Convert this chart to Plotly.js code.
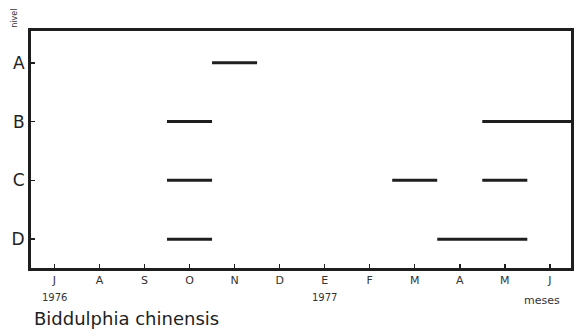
<!DOCTYPE html>
<html><head><meta charset="utf-8">
<script src="https://cdn.plot.ly/plotly-3.0.1.min.js"></script>
<style>html,body{margin:0;padding:0;background:#fff}</style>
</head><body><div id="chart" style="width:574px;height:331px"></div>
<script>
// Month axis: June 1976 .. June 1977
const months = ['J','A','S','O','N','D','E','F','M','A','M','J'];
const levelLabels = ['D','C','B','A'];
// months (index into months) in which the species was present at each level
const presenceA = [4];
const presenceB = [3, 10, 11];
const presenceC = [3, 8, 10];
const presenceD = [3, 9, 10];
const yearLabels = ['1976', '1977'];
const yearMonthIdx = [0, 6];
const speciesName = 'Biddulphia chinensis';

function segs(pres, lvl) {
  const x = [], y = [];
  const s = pres.slice().sort((a,b)=>a-b);
  let i = 0;
  while (i < s.length) {
    let j = i;
    while (j + 1 < s.length && s[j+1] === s[j] + 1) j++;
    x.push(s[i] - 0.5, s[j] + 0.5, null);
    y.push(lvl, lvl, null);
    i = j + 1;
  }
  return {x, y};
}
const ink = '#1e1e1e';
const traces = [[presenceD,1],[presenceC,2],[presenceB,3],[presenceA,4]].map(([p,l]) => {
  const s = segs(p, l);
  return {type:'scatter', mode:'lines', x:s.x, y:s.y, line:{color:ink, width:3}, hoverinfo:'skip', showlegend:false};
});

const font = 'DejaVu Sans, sans-serif';
const annotations = [
  {text:'nivel', textangle:-90, xref:'paper', yref:'paper', x:-0.03, xanchor:'center', y:1.055, yanchor:'middle', showarrow:false, font:{family:font, size:8, color:'#333'}},
  {text:'meses', xref:'paper', yref:'paper', x:0.946, xanchor:'center', y:-0.139, yanchor:'middle', showarrow:false, font:{family:font, size:11, color:'#333'}},
  {text:speciesName, xref:'paper', yref:'paper', x:0.002, xanchor:'left', y:-0.213, yanchor:'middle', showarrow:false, font:{family:font, size:18, color:'#222'}}
];
yearLabels.forEach((t,k) => annotations.push({text:t, xref:'x', yref:'paper', x:yearMonthIdx[k], xanchor:'center', y:-0.125, yanchor:'middle', showarrow:false, font:{family:font, size:10, color:'#333'}}));

const layout = {
  width:574, height:331,
  margin:{l:31, r:3, t:31, b:63},
  paper_bgcolor:'#fff', plot_bgcolor:'#fff',
  xaxis:{range:[-0.52, 11.47], tickvals:months.map((_,i)=>i), ticktext:months,
    ticks:'inside', ticklen:4, tickwidth:1.5, tickcolor:ink,
    showline:true, linewidth:3, linecolor:ink, mirror:true, showgrid:false, zeroline:false,
    tickfont:{family:font, size:11, color:'#333'}},
  yaxis:{range:[0.51, 4.54], tickvals:[1,2,3,4], ticktext:levelLabels,
    ticks:'inside', ticklen:4, tickwidth:1.5, tickcolor:ink,
    showline:true, linewidth:3, linecolor:ink, mirror:true, showgrid:false, zeroline:false,
    tickfont:{family:font, size:17, color:'#222'}},
  annotations:annotations,
  showlegend:false
};
Plotly.newPlot('chart', traces, layout, {displayModeBar:false, staticPlot:true});
</script></body></html>
